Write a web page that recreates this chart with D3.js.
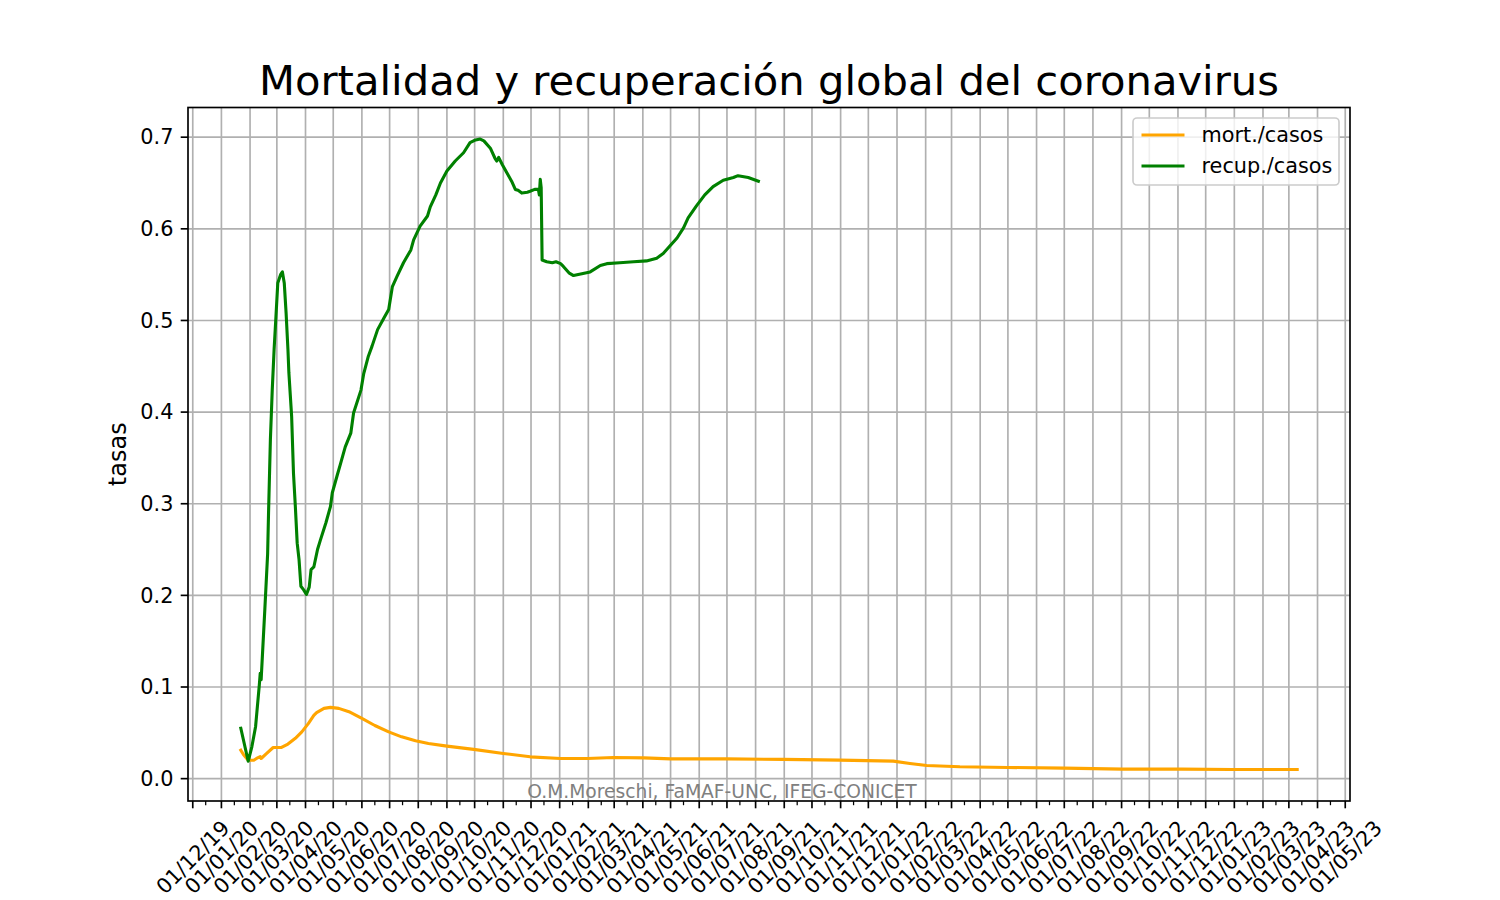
<!DOCTYPE html>
<html>
<head>
<meta charset="utf-8">
<script src="https://cdn.jsdelivr.net/npm/d3@7"></script>
<style>
  html, body { margin: 0; padding: 0; background: #fff; }
  svg { display: block; font-family: "DejaVu Sans", sans-serif; }
</style>
</head>
<body>
<svg id="chart" width="1500" height="900"></svg>
<script>
// ---------------- DATA ----------------
const seriesNames = ["mort./casos", "recup./casos"];

const mortDates = ["2020-01-22","2020-01-25","2020-01-30","2020-02-05","2020-02-08","2020-02-12","2020-02-13","2020-02-19","2020-02-26","2020-03-06","2020-03-13","2020-03-21","2020-03-28","2020-04-04","2020-04-10","2020-04-13","2020-04-21","2020-04-28","2020-05-07","2020-05-18","2020-06-01","2020-06-15","2020-06-30","2020-07-14","2020-07-29","2020-08-12","2020-09-01","2020-09-30","2020-11-01","2020-11-30","2021-01-02","2021-01-31","2021-02-28","2021-04-02","2021-05-01","2021-07-01","2021-08-31","2021-10-31","2021-12-28","2022-01-15","2022-02-02","2022-03-10","2022-05-01","2022-07-01","2022-09-02","2022-11-05","2022-12-30","2023-03-10"];
const mortValues = [0.031,0.026,0.020,0.020,0.022,0.024,0.022,0.0275,0.034,0.034,0.0377,0.044,0.051,0.060,0.069,0.072,0.0767,0.0778,0.0767,0.073,0.0657,0.058,0.051,0.0456,0.0413,0.0384,0.0355,0.0319,0.0275,0.0238,0.022,0.022,0.023,0.0227,0.0216,0.0216,0.021,0.0202,0.0191,0.0166,0.0144,0.0129,0.0122,0.0115,0.0104,0.0104,0.0100,0.0100];

const recDates = ["2020-01-22","2020-01-30","2020-02-03","2020-02-07","2020-02-11","2020-02-12","2020-02-13","2020-02-17","2020-02-20","2020-02-21","2020-02-23","2020-02-25","2020-02-27","2020-02-29","2020-03-02","2020-03-05","2020-03-07","2020-03-09","2020-03-11","2020-03-13","2020-03-14","2020-03-17","2020-03-19","2020-03-21","2020-03-23","2020-03-25","2020-03-27","2020-03-30","2020-04-02","2020-04-05","2020-04-07","2020-04-10","2020-04-14","2020-04-17","2020-04-23","2020-04-28","2020-04-30","2020-05-05","2020-05-09","2020-05-14","2020-05-20","2020-05-23","2020-05-31","2020-06-03","2020-06-08","2020-06-12","2020-06-18","2020-06-25","2020-06-30","2020-07-04","2020-07-09","2020-07-16","2020-07-24","2020-07-27","2020-08-03","2020-08-11","2020-08-14","2020-08-20","2020-08-25","2020-09-01","2020-09-10","2020-09-19","2020-09-26","2020-10-02","2020-10-07","2020-10-11","2020-10-18","2020-10-23","2020-10-25","2020-10-27","2020-10-31","2020-11-05","2020-11-10","2020-11-14","2020-11-17","2020-11-21","2020-11-27","2020-11-30","2020-12-05","2020-12-09","2020-12-10","2020-12-11","2020-12-12","2020-12-13","2020-12-18","2020-12-24","2020-12-28","2021-01-02","2021-01-05","2021-01-11","2021-01-16","2021-01-25","2021-02-03","2021-02-14","2021-02-21","2021-03-07","2021-03-22","2021-04-05","2021-04-16","2021-04-23","2021-04-30","2021-05-08","2021-05-15","2021-05-20","2021-05-29","2021-06-07","2021-06-16","2021-06-27","2021-07-08","2021-07-13","2021-07-24","2021-08-04"];
const recValues = [0.055,0.019,0.035,0.057,0.102,0.115,0.108,0.185,0.245,0.290,0.370,0.424,0.468,0.504,0.541,0.550,0.553,0.541,0.508,0.468,0.443,0.395,0.333,0.297,0.257,0.239,0.210,0.206,0.201,0.209,0.228,0.231,0.250,0.260,0.279,0.297,0.312,0.330,0.344,0.362,0.377,0.399,0.424,0.442,0.461,0.472,0.490,0.503,0.512,0.537,0.548,0.563,0.577,0.588,0.603,0.614,0.624,0.637,0.650,0.663,0.674,0.683,0.694,0.697,0.698,0.696,0.688,0.677,0.674,0.678,0.670,0.661,0.652,0.643,0.642,0.639,0.640,0.641,0.643,0.643,0.637,0.654,0.645,0.566,0.564,0.563,0.564,0.562,0.559,0.552,0.549,0.551,0.553,0.560,0.562,0.563,0.564,0.565,0.568,0.573,0.581,0.590,0.601,0.612,0.625,0.637,0.646,0.653,0.656,0.658,0.656,0.652];

const yTickValues = [0.0, 0.1, 0.2, 0.3, 0.4, 0.5, 0.6, 0.7];
const titleText = "Mortalidad y recuperación global del coronavirus";
const yLabelText = "tasas";
const creditText = "O.M.Moreschi, FaMAF-UNC, IFEG-CONICET";

// ---------------- LAYOUT ----------------
const W = 1500, H = 900;
const L = 188, R = 1350, T = 107.5, B = 801;
const parse = d3.utcParse("%Y-%m-%d");
const fmt = d3.utcFormat("%d/%m/%y");

const mort = mortDates.map((d, i) => ({ date: parse(d), v: mortValues[i] }));
const rec = recDates.map((d, i) => ({ date: parse(d), v: recValues[i] }));

const all = mort.concat(rec);
const xExt = d3.extent(all, d => d.date);
const xPad = (xExt[1] - xExt[0]) * 0.05;
const x = d3.scaleUtc().domain([new Date(+xExt[0] - xPad), new Date(+xExt[1] + xPad)]).range([L, R]);
const yExt = d3.extent(all, d => d.v);
const yPad = (yExt[1] - yExt[0]) * 0.05;
const y = d3.scaleLinear().domain([yExt[0] - yPad, yExt[1] + yPad]).range([B, T]);

const svg = d3.select("#chart");
svg.append("rect").attr("width", W).attr("height", H).attr("fill", "#fff");

const lw = 1.67;
const majorTicks = d3.utcMonth.range(d3.utcMonth.ceil(x.domain()[0]), x.domain()[1]);
const minorTicks = d3.utcDay.range(x.domain()[0], x.domain()[1]).filter(d => d.getUTCDate() === 15);

// grid
const grid = svg.append("g");
grid.selectAll("line.vx").data(majorTicks).join("line")
  .attr("x1", d => x(d)).attr("x2", d => x(d)).attr("y1", T).attr("y2", B)
  .attr("stroke", "#b0b0b0").attr("stroke-width", lw);
grid.selectAll("line.hy").data(yTickValues).join("line")
  .attr("x1", L).attr("x2", R).attr("y1", d => y(d)).attr("y2", d => y(d))
  .attr("stroke", "#b0b0b0").attr("stroke-width", lw);

// credit text
svg.append("text").attr("x", 722).attr("y", 798).attr("text-anchor", "middle")
  .attr("font-size", 18.7).attr("fill", "#808080").text(creditText);

// lines
const line = d3.line().x(d => x(d.date)).y(d => y(d.v));
const plot = svg.append("g");
plot.append("path").datum(mort).attr("d", line).attr("fill", "none")
  .attr("stroke", "orange").attr("stroke-width", 3.1).attr("stroke-linejoin", "round").attr("stroke-linecap", "square");
plot.append("path").datum(rec).attr("d", line).attr("fill", "none")
  .attr("stroke", "green").attr("stroke-width", 3.1).attr("stroke-linejoin", "round").attr("stroke-linecap", "square");

// frame
svg.append("rect").attr("x", L).attr("y", T).attr("width", R - L).attr("height", B - T)
  .attr("fill", "none").attr("stroke", "#000").attr("stroke-width", lw);

// x ticks
const ax = svg.append("g");
ax.selectAll("line.maj").data(majorTicks).join("line")
  .attr("x1", d => x(d)).attr("x2", d => x(d)).attr("y1", B).attr("y2", B + 7.3)
  .attr("stroke", "#000").attr("stroke-width", lw);
ax.selectAll("line.min").data(minorTicks).join("line")
  .attr("x1", d => x(d)).attr("x2", d => x(d)).attr("y1", B).attr("y2", B + 4.2)
  .attr("stroke", "#000").attr("stroke-width", 1.25);

const tickFont = 20.8;
const labels = ax.selectAll("g.lab").data(majorTicks).join("g");
labels.each(function(d) {
  const g = d3.select(this);
  const t = g.append("text").attr("text-anchor", "middle").attr("dy", "0.35em")
    .attr("font-size", tickFont).attr("fill", "#000").text(fmt(d));
  const w = t.node().getComputedTextLength();
  const h = tickFont * 1.164;
  const bb = (w + h) * Math.SQRT1_2;
  g.attr("transform", `translate(${x(d)},${B + 7.3 + 7.3 + bb / 2}) rotate(-45)`);
});

// y ticks
const ay = svg.append("g");
ay.selectAll("line").data(yTickValues).join("line")
  .attr("x1", L - 7.3).attr("x2", L).attr("y1", d => y(d)).attr("y2", d => y(d))
  .attr("stroke", "#000").attr("stroke-width", lw);
ay.selectAll("text").data(yTickValues).join("text")
  .attr("x", L - 7.3 - 7.3).attr("y", d => y(d)).attr("dy", "0.35em")
  .attr("text-anchor", "end").attr("font-size", tickFont).attr("fill", "#000")
  .text(d => d3.format(".1f")(d));

// y label
svg.append("text").attr("transform", `translate(125.5,${(T + B) / 2}) rotate(-90)`)
  .attr("text-anchor", "middle").attr("font-size", 24).attr("fill", "#000").text(yLabelText);

// title
svg.append("text").attr("x", (L + R) / 2).attr("y", 95).attr("text-anchor", "middle")
  .attr("font-size", 41.7).attr("fill", "#000").text(titleText);

// legend
const lg = svg.append("g");
lg.append("rect").attr("x", 1133).attr("y", 118).attr("width", 206).attr("height", 67).attr("rx", 4)
  .attr("fill", "#fff").attr("fill-opacity", 0.8).attr("stroke", "#cccccc").attr("stroke-width", lw);
const legColors = ["orange", "green"];
seriesNames.forEach((name, i) => {
  const yy = 135 + i * 31;
  lg.append("line").attr("x1", 1141.5).attr("x2", 1184.5).attr("y1", yy).attr("y2", yy)
    .attr("stroke", legColors[i]).attr("stroke-width", 3.1);
  lg.append("text").attr("x", 1201.5).attr("y", yy).attr("dy", "0.35em")
    .attr("font-size", 20.8).attr("fill", "#000").text(name);
});
</script>
</body>
</html>
